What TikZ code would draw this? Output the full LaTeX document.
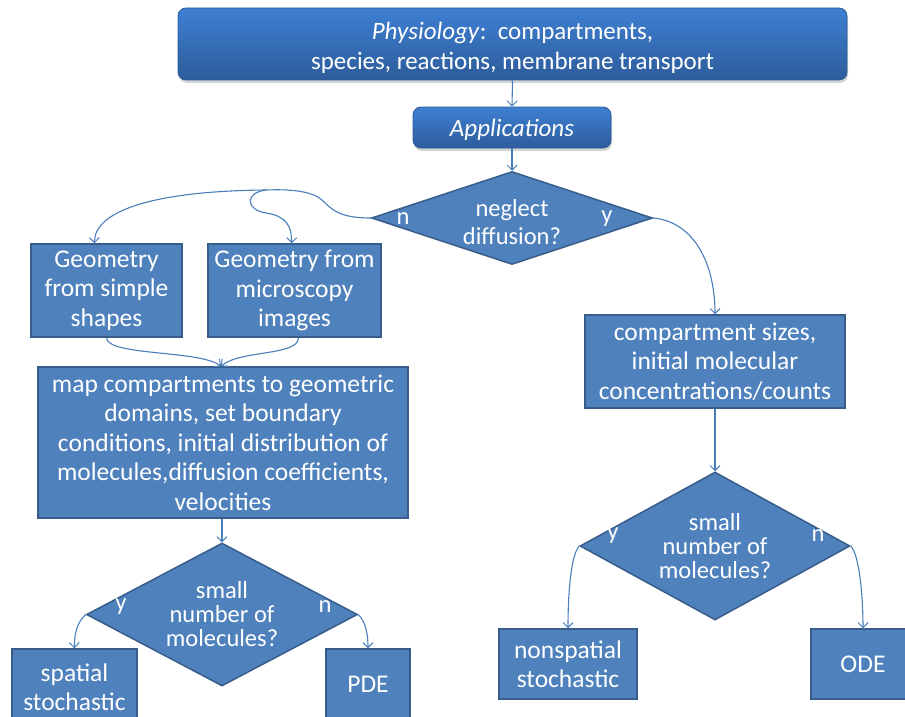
\documentclass[tikz,border=0pt]{standalone}
\usepackage{fontspec}
\setmainfont{Carlito}
\usetikzlibrary{shapes.geometric,arrows.meta,shadows}
\definecolor{boxfill}{HTML}{4F81BD}
\definecolor{boxline}{HTML}{385D8A}
\definecolor{gtop}{HTML}{3E80D3}
\definecolor{gbot}{HTML}{2D5C9A}
\definecolor{conn}{HTML}{4A7EBB}
\begin{document}
\begin{tikzpicture}[x=1pt,y=-1pt,
  flatbox/.style={draw=boxline, line width=1.5pt, fill=boxfill, text=white, align=center, inner sep=0pt,
    font=\fontsize{25.5}{29.5}\selectfont},
  headbox/.style={rounded corners=8pt, draw=gbot, line width=0.8pt, top color=gtop, bottom color=gbot,
    inner sep=0pt, drop shadow={shadow xshift=1pt, shadow yshift=-3pt, opacity=0.35}},
  htext/.style={text=white, align=center, inner sep=0pt, font=\fontsize{25}{30}\selectfont},
  diam/.style={diamond, draw=boxline, line width=1.5pt, fill=boxfill, inner sep=0pt},
  dtext/.style={text=white, align=center, inner sep=0pt, font=\fontsize{24.5}{24}\selectfont},
  lbl/.style={text=white, inner sep=0pt, font=\fontsize{24.5}{24}\selectfont},
  conn/.style={draw=conn, line width=1.1pt, -{Straight Barb[length=5pt,width=10pt,line width=1pt]}},
  connplain/.style={draw=conn, line width=1.1pt}
]
\useasboundingbox (0,0) rectangle (905,717);
\clip (0,0) rectangle (905,717);

% header boxes
\node[headbox, minimum width=669pt, minimum height=72pt] (head) at (512.5,44) {};
\node[htext] (headt) at (512.5,48)
  {\textit{Physiology}:\ \ compartments,\\species, reactions, membrane transport};
\node[headbox, minimum width=198pt, minimum height=41pt] (app) at (512,127.5) {};
\node[htext] (appt) at (512,130) {\textit{Applications}};

% diamond 1
\node[diam, minimum width=281pt, minimum height=93pt] (d1) at (512,218) {};
\node[dtext, font=\fontsize{24.5}{28}\selectfont] (d1t) at (512,222) {neglect\\diffusion?};
\node[lbl] (d1n) at (403,219) {n};
\node[lbl] (d1y) at (607,219) {y};

% geometry boxes
\node[flatbox, minimum width=151pt, minimum height=93pt] (simple) at (106.5,290.5)
  {Geometry\\from simple\\shapes};
\node[flatbox, minimum width=173pt, minimum height=93pt] (micro) at (294.5,290.5)
  {Geometry from\\microscopy\\images};

% map box
\node[flatbox, minimum width=370pt, minimum height=151pt] (map) at (223,442.5)
  {map compartments to geometric\\domains, set boundary\\conditions, initial distribution of\\molecules,diffusion coefficients,\\velocities};

% compartment box
\node[flatbox, minimum width=260pt, minimum height=93pt] (comp) at (715,361.5)
  {compartment sizes,\\initial molecular\\concentrations/counts};

% diamond 2
\node[diam, minimum width=271pt, minimum height=143pt] (d2) at (222,614.5) {};
\node[dtext] (d2t) at (222,614) {small\\number of\\molecules?};
\node[lbl] (d2y) at (121,607) {y};
\node[lbl] (d2n) at (325,607) {n};

% diamond 3
\node[diam, minimum width=270pt, minimum height=148pt] (d3) at (715,546) {};
\node[dtext] (d3t) at (715,546) {small\\number of\\molecules?};
\node[lbl] (d3y) at (613,536) {y};
\node[lbl] (d3n) at (818,536) {n};

% leaves
\node[flatbox, minimum width=125pt, minimum height=76pt] (spatial) at (74.5,687)
  {spatial\\stochastic};
\node[flatbox, minimum width=84pt, minimum height=70pt] (pde) at (368,684) {PDE};
\node[flatbox, minimum width=138pt, minimum height=70pt] (nonsp) at (568,664)
  {nonspatial\\stochastic};
\node[flatbox, minimum width=104pt, minimum height=70pt] (ode) at (863,664) {ODE};

% connectors
\draw[conn] (head.south) -- (app.north);
\draw[conn] (app.south) -- (d1.north);
\coordinate (fork) at (266,190);
\draw[connplain] (d1.west) .. controls (340,218) and (332,210) .. (322,200)
  .. controls (312,191) and (290,189) .. (fork);
\draw[conn] (fork) .. controls (150,191) and (94,212) .. ([xshift=-12pt]simple.north);
\draw[conn] (fork) .. controls (244,193) and (246,210) .. (266,213)
  .. controls (286,216) and (292,226) .. ([xshift=-3pt]micro.north);
\draw[conn] (d1.east) .. controls (695,222) and (715,265) .. (comp.north);
\draw[conn] (simple.south) .. controls (107,356) and (200,350) .. ([xshift=-2pt]map.north);
\draw[conn] ([xshift=4pt]micro.south) .. controls (298,356) and (240,350) .. ([xshift=-2pt]map.north);
\draw[conn] ([xshift=-1pt]map.south) -- (d2.north);
\draw[conn] (d2.west) .. controls (77,622) and (74,635) .. (spatial.north);
\draw[conn] (d2.east) .. controls (366,622) and (368,635) .. (pde.north);
\draw[conn] (comp.south) -- (d3.north);
\draw[conn] (d3.west) .. controls (570,556) and (568,600) .. (nonsp.north);
\draw[conn] (d3.east) .. controls (860,556) and (863,600) .. (ode.north);
\end{tikzpicture}
\end{document}
